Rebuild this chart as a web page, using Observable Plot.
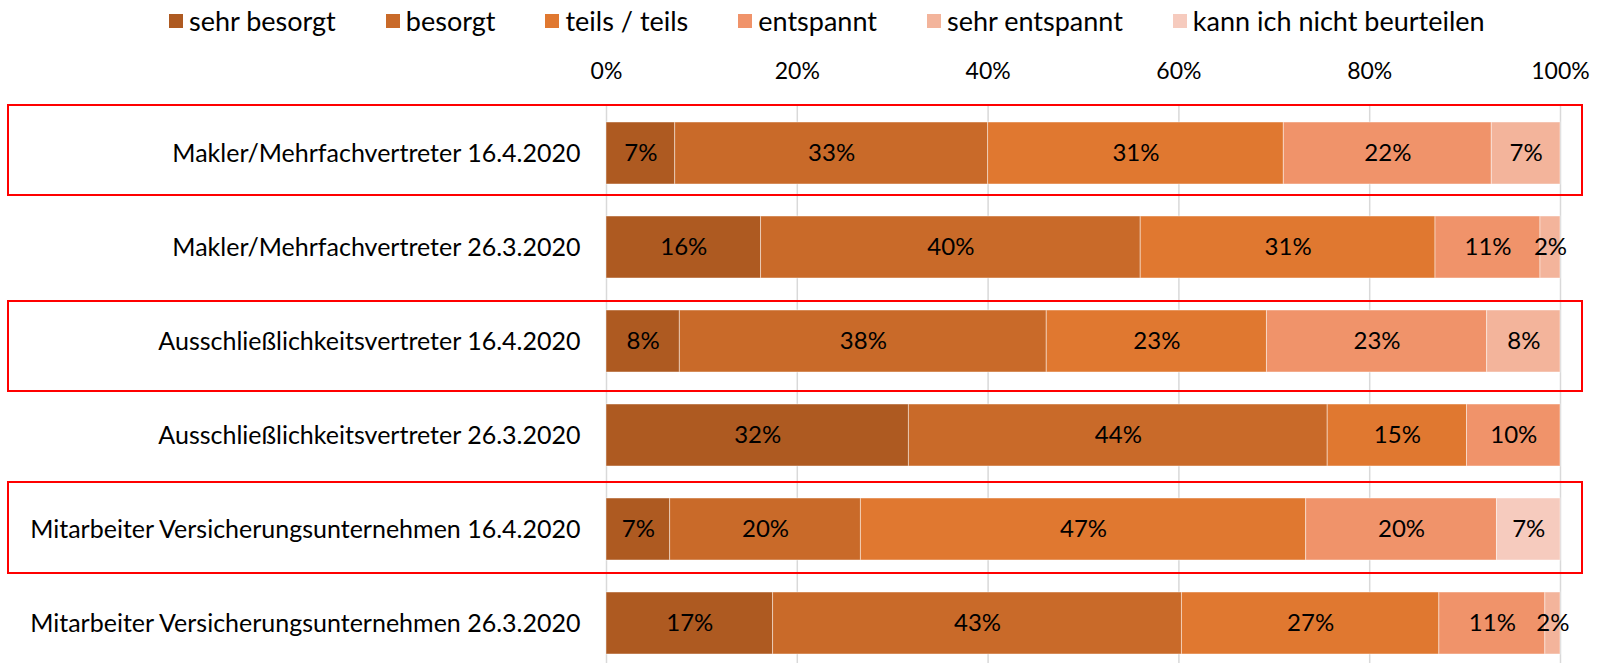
<!DOCTYPE html>
<html><head><meta charset="utf-8">
<script src="https://cdn.jsdelivr.net/npm/d3@7"></script>
<script src="https://cdn.jsdelivr.net/npm/@observablehq/plot@0.6"></script>
<style>
html,body{margin:0;padding:0;background:#fff;font-family:Lato,"Open Sans",sans-serif;}
#legend{display:flex;height:44px;align-items:center;padding-left:169px;padding-bottom:3px;gap:50px;font-size:27px;color:#000;box-sizing:border-box;}
.item{display:flex;align-items:center;gap:6px;white-space:nowrap}
.sw{width:14px;height:14px;display:inline-block}
#chart svg{display:block}
</style></head><body>
<div id="legend"></div><div id="chart"></div>
<script>
const rows = [
  "Makler/Mehrfachvertreter 16.4.2020",
  "Makler/Mehrfachvertreter 26.3.2020",
  "Ausschließlichkeitsvertreter 16.4.2020",
  "Ausschließlichkeitsvertreter 26.3.2020",
  "Mitarbeiter Versicherungsunternehmen 16.4.2020",
  "Mitarbeiter Versicherungsunternehmen 26.3.2020"
];
const categories = ["sehr besorgt","besorgt","teils / teils","entspannt","sehr entspannt","kann ich nicht beurteilen"];
const colors = ["#AE5A21","#C96A29","#E07830","#F0936A","#F3B49B","#F6CBBE"];

const sehrBesorgt   = [7.2, 16.2, 7.69, 31.7, 6.67, 17.46];
const besorgt       = [32.8, 39.8, 38.46, 43.9, 20.0, 42.86];
const teilsTeils    = [31.0, 30.9, 23.08, 14.6, 46.67, 26.98];
const entspannt     = [21.8, 11.0, 23.08, 9.8, 20.0, 11.11];
const sehrEntspannt = [7.2, 2.1, 7.69, 0, 0, 1.59];
const kannNicht     = [0, 0, 0, 0, 6.67, 0];
const xTicks = [0, 20, 40, 60, 80, 100];

const highlighted = [rows[0], rows[2], rows[4]];

const series = [sehrBesorgt, besorgt, teilsTeils, entspannt, sehrEntspannt, kannNicht];
const table = [];
rows.forEach((r, i) => {
  categories.forEach((c, j) => {
    const v = series[j][i];
    if (v > 0) table.push({row: r, cat: c, value: v});
  });
});

// legend
const lg = document.getElementById("legend");
categories.forEach((c, j) => {
  const it = document.createElement("div");
  it.className = "item";
  it.innerHTML = `<span class="sw" style="background:${colors[j]}"></span><span>${c}</span>`;
  lg.appendChild(it);
});

const hlStyle = [
  {insetTop: -17, insetBottom: -11},
  {insetTop: -9, insetBottom: -19},
  {insetTop: -16, insetBottom: -13}
];

const chart = Plot.plot({
  width: 1602,
  height: 619,
  marginLeft: 606,
  marginRight: 42,
  marginTop: 77.5,
  marginBottom: 8.5,
  style: {fontFamily: "Lato, sans-serif", color: "#000", background: "#fff"},
  x: {domain: [0, 100], axis: null},
  y: {domain: rows, paddingInner: 0.342, paddingOuter: 0, axis: null},
  color: {domain: categories, range: colors},
  marks: [
    Plot.ruleX(xTicks, {x: d => d, stroke: "#d9d9d9", strokeWidth: 1.5, insetTop: -17, insetBottom: -9}),
    ...highlighted.map((h, k) => Plot.barX([h], {
      y: d => d, x1: 0, x2: 100, fill: "none", stroke: "#ff0000", strokeWidth: 2,
      insetLeft: -598, insetRight: -22, ...hlStyle[k]
    })),
    Plot.barX(table, Plot.stackX({x: "value", y: "row", z: "cat", fill: "cat", stroke: "#ffffff", strokeOpacity: 0.45, strokeWidth: 1})),
    Plot.text(table, Plot.stackX({x: "value", y: "row", z: "cat", text: d => Math.round(d.value) + "%", fontSize: 24, fill: "#000"})),
    Plot.axisX({anchor: "top", ticks: xTicks, tickFormat: d => d + "%", tickSize: 0, tickPadding: 43, fontSize: 23, label: null}),
    Plot.axisY({tickSize: 0, tickPadding: 26, fontSize: 25, label: null})
  ]
});
document.getElementById("chart").appendChild(chart);
</script>
</body></html>
